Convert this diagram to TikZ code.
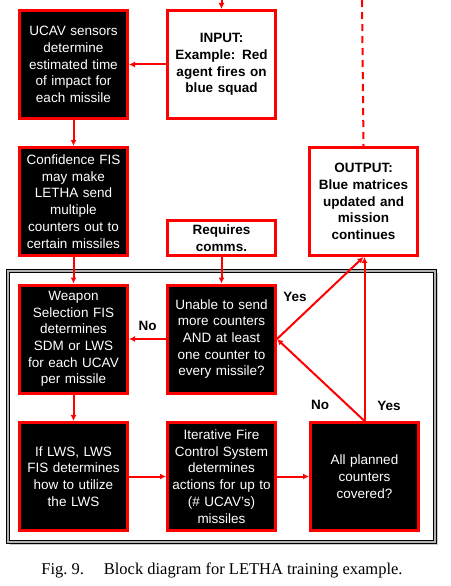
\documentclass[tikz,border=0pt]{standalone}
\usepackage{fontspec}
\setmainfont{Liberation Sans}
\newfontfamily\capfont{Liberation Serif}
\usetikzlibrary{arrows.meta}

\begin{document}
\begin{tikzpicture}[x=1pt, y=-1pt, >={Latex[length=6pt,width=6pt]},
	every node/.style={font=\fontsize{13.5}{16.7}\selectfont, align=center},
	blackbox/.style={draw=red, fill=black, text=white, line width=3pt, minimum width=108pt, minimum height=108pt, inner sep=1pt, text width=106pt},
	whitebox/.style={draw=red, fill=white, text=black, line width=3pt, minimum width=108pt, inner sep=1pt, text width=106pt, font=\fontsize{13.5}{16.7}\selectfont\bfseries},
	flow/.style={draw=red, line width=2pt, ->},
	lbl/.style={font=\fontsize{13.5}{16.7}\selectfont\bfseries}]
	\useasboundingbox (0,0) rectangle (450,586);
	% frame round the loop
	\fill[gray!40] (10,273) rectangle (438,545);
	\draw[black, line width=1pt, double=gray!60, double distance=1.2pt, fill=white] (8,271) rectangle (435,542);
	% boxes
	\node[blackbox] (sensors) at (73.5,64.5) {UCAV sensors\\determine\\estimated time\\of impact for\\each missile};
	\node[whitebox, minimum height=108pt] (input) at (221.5,64.5) {INPUT:\\Example: Red\\agent fires on\\blue squad};
	\node[blackbox] (conf) at (73.5,201.5) {Confidence FIS\\may make\\LETHA send\\multiple\\counters out to\\certain missiles};
	\node[whitebox, minimum height=108pt] (output) at (363.5,201.5) {OUTPUT:\\Blue matrices\\updated and\\mission\\continues};
	\node[whitebox, minimum height=35pt] (comms) at (221.5,238) {Requires\\comms.};
	\node[blackbox] (weapon) at (73.5,339) {Weapon\\Selection FIS\\determines\\SDM or LWS\\for each UCAV\\per missile};
	\node[blackbox] (unable) at (221.5,339) {Unable to send\\more counters\\AND at least\\one counter to\\every missile?};
	\node[blackbox] (lws) at (73.5,476.5) {If LWS, LWS\\FIS determines\\how to utilize\\the LWS};
	\node[blackbox] (ifcs) at (221.5,476.5) {Iterative Fire\\Control System\\determines\\actions for up to\\(\# UCAV's)\\missiles};
	\node[blackbox] (covered) at (364.5,476.5) {All planned\\counters\\covered?};
	% connectors
	\coordinate (src) at (221.5,0);
	\coordinate (prev) at (362,0);
	\draw[flow] (src) -- (input.north);
	\draw[red, line width=2pt, dash pattern=on 7pt off 5pt] (prev) -- (output.north);
	\draw[flow] (input.west) -- (sensors.east);
	\draw[flow] (sensors.south) -- (conf.north);
	\draw[flow] (conf.south) -- (weapon.north);
	\draw[flow] (comms.south) -- (unable.north);
	\draw[flow] (unable.west) -- node[lbl, above=4pt] {No} (weapon.east);
	\draw[flow] (weapon.south) -- (lws.north);
	\draw[flow] (lws.east) -- (ifcs.west);
	\draw[flow] (ifcs.east) -- (covered.west);
	\draw[flow] (covered.north) -- (unable.east);
	\draw[flow] (covered.north) -- (output.south -| covered.north);
	\draw[flow] (unable.east) -- (output.south);
	\node[lbl] (yesa) at (295,297) {Yes};
	\node[lbl] (noa) at (320,405) {No};
	\node[lbl] (yesb) at (389,406) {Yes};
	% caption
	\node[font=\capfont\fontsize{16.5}{18}\selectfont] (cap) at (222,570) {Fig.~9.\hspace{1.2em}Block diagram for LETHA training example.};
\end{tikzpicture}
\end{document}
